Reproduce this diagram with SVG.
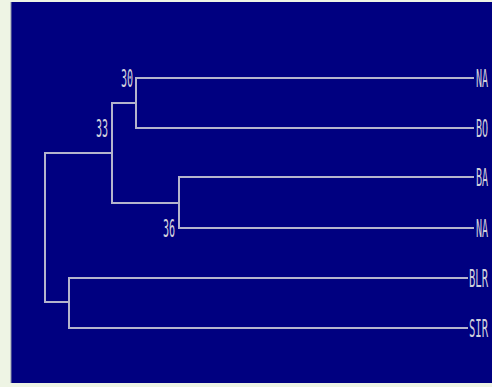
<svg xmlns="http://www.w3.org/2000/svg" width="492" height="387" viewBox="0 0 492 387">
<style>
.e{fill:none;stroke:#b4b4cc;stroke-width:2;stroke-linecap:square}
.t{font-family:"DejaVu Sans Mono","Liberation Mono",monospace;font-size:24px;fill:#d0d0dc}
</style>
<rect x="0" y="0" width="492" height="387" fill="#eef4e4"/>
<rect x="11" y="2" width="481" height="381" fill="#000080"/>
<line x1="11" y1="2" x2="11" y2="383" stroke="#8890a8" stroke-width="1"/>
<g id="connectors">
<path class="e" d="M136,78H473M136,128H473M136,78V128"/>
<path class="e" d="M112,103H136M112,103V203M112,203H179"/>
<path class="e" d="M179,177H473M179,228H473M179,177V228"/>
<path class="e" d="M45,153H112M45,153V302M45,302H69"/>
<path class="e" d="M69,278H467M69,328H467M69,278V328"/>
</g>
<g id="n30"><text class="t" transform="translate(121,87) scale(0.42,1)">30</text></g>
<g id="n33"><text class="t" transform="translate(96,137) scale(0.42,1)">33</text></g>
<g id="n36"><text class="t" transform="translate(163,237) scale(0.42,1)">36</text></g>
<g id="leafNA1"><text class="t" transform="translate(476,87) scale(0.42,1)">NA</text></g>
<g id="leafBO"><text class="t" transform="translate(476,137) scale(0.42,1)">BO</text></g>
<g id="leafBA"><text class="t" transform="translate(476,186) scale(0.42,1)">BA</text></g>
<g id="leafNA2"><text class="t" transform="translate(476,237) scale(0.42,1)">NA</text></g>
<g id="leafBLR"><text class="t" transform="translate(469,287) scale(0.44,1)">BLR</text></g>
<g id="leafSIR"><text class="t" transform="translate(469,337) scale(0.44,1)">SIR</text></g>
</svg>
